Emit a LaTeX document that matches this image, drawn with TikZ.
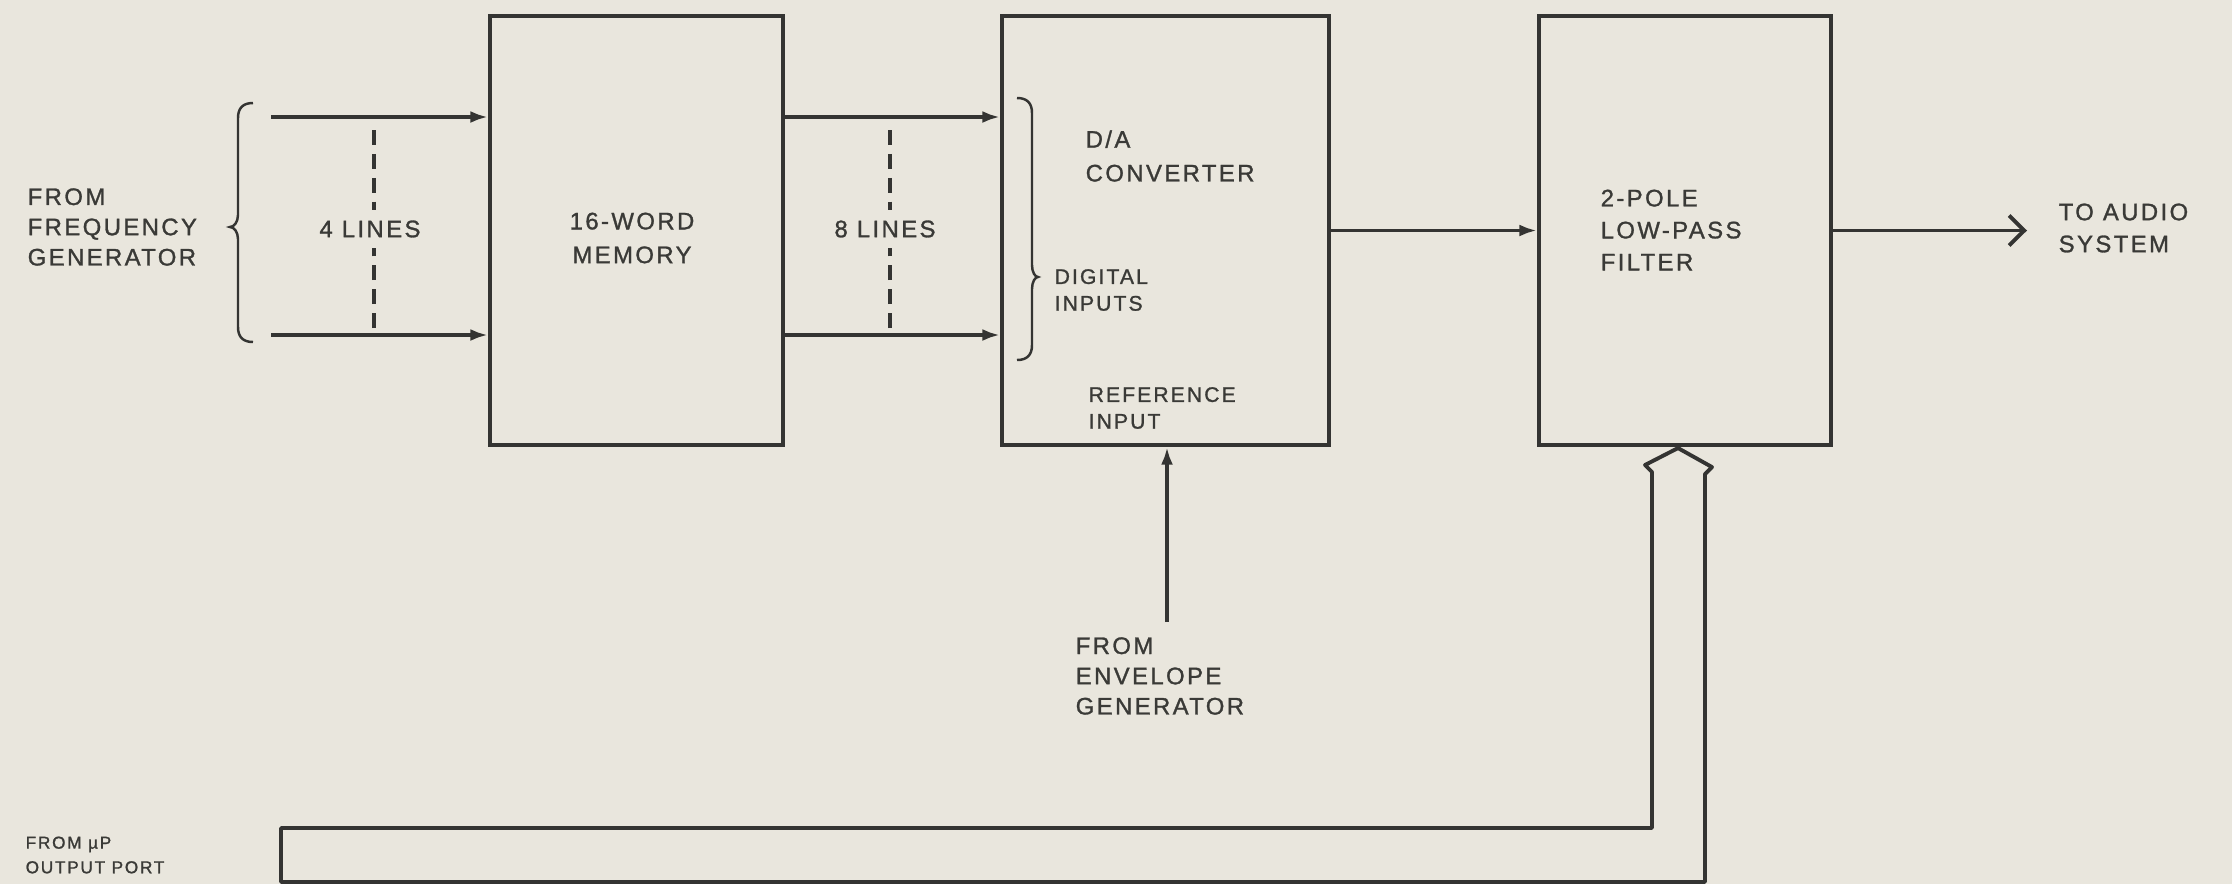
\documentclass[tikz,border=0pt]{standalone}
\usepackage{fontspec}
\setmainfont{Liberation Sans}
\newfontfamily\lbl{Liberation Sans}[LetterSpace=10,FakeBold=1.2]
\usetikzlibrary{arrows.meta,calc}
\definecolor{paper}{RGB}{233,230,221}
\definecolor{ink}{RGB}{52,52,50}
\definecolor{txt}{RGB}{58,58,55}
\begin{document}
\begin{tikzpicture}[x=0.01cm,y=-0.01cm,
  blockbox/.style={draw=ink,line width=1.1pt,inner sep=0pt,minimum height=4.29cm},
  lab/.style={text=txt,font=\lbl\fontsize{6.8pt}{8.6pt}\selectfont,align=left,inner sep=0pt,anchor=west},
  midlab/.style={text=txt,font=\lbl\fontsize{6.8pt}{8.6pt}\selectfont,align=center,inner xsep=0pt,inner ysep=0.1cm,anchor=center},
  smalllab/.style={text=txt,font=\lbl\fontsize{6.0pt}{7.6pt}\selectfont,align=left,inner sep=0pt,anchor=west},
  tinylab/.style={text=txt,font=\lbl\fontsize{4.9pt}{7pt}\selectfont,align=left,inner sep=0pt,anchor=west},
  sig/.style={draw=ink,line width=1.1pt,-{Latex[length=5pt,width=3.4pt]}},
  outsig/.style={draw=ink,line width=1.1pt,-{Straight Barb[length=4.3pt,width=8.5pt,line width=1.1pt]}},
  dashline/.style={draw=ink,line width=0.9pt,dash pattern=on 4.2pt off 2.6pt},
  brc/.style={draw=ink,line width=0.7pt},
  busline/.style={draw=ink,line width=1.1pt,line join=round}]
\path[use as bounding box,fill=paper] (0,0) rectangle (2232,884);

% blocks
\node[blockbox,minimum width=2.93cm] (mem) at (636.5,230.5) {};
\node[blockbox,minimum width=3.27cm] (da) at (1165.5,230.5) {};
\node[blockbox,minimum width=2.92cm] (filt) at (1685,230.5) {};

% labels
\node[lab] (freq) at (27,227) {FROM\\FREQUENCY\\GENERATOR};
\node[midlab] (l4) at (370,229) {4 LINES};
\node[midlab,inner ysep=0pt,font=\lbl\fontsize{6.8pt}{9.6pt}\selectfont] (memt) at (632,238) {16-WORD\\MEMORY};
\node[midlab] (l8) at (885,229) {8 LINES};
\node[lab,font=\lbl\fontsize{6.8pt}{9.6pt}\selectfont] (dat) at (1085,156) {D/A\\CONVERTER};
\node[smalllab] (dig) at (1054,290) {DIGITAL\\INPUTS};
\node[smalllab] (ref) at (1088,408) {REFERENCE\\INPUT};
\node[lab,font=\lbl\fontsize{6.8pt}{9.1pt}\selectfont] (filtt) at (1600,230) {2-POLE\\LOW-PASS\\FILTER};
\node[lab,font=\lbl\fontsize{6.8pt}{9.1pt}\selectfont] (audio) at (2058,228) {TO AUDIO\\SYSTEM};
\node[lab] (env) at (1075,676) {FROM\\ENVELOPE\\GENERATOR};
\node[tinylab] (up) at (25,855) {FROM µP\\OUTPUT PORT};

% input lines
\coordinate (a1) at (271,117);
\coordinate (a2) at (271,335);
\draw[sig] (a1) -- (a1 -| mem.west);
\draw[sig] (a2) -- (a2 -| mem.west);
\draw[sig] (mem.east |- a1) -- (da.west |- a1);
\draw[sig] (mem.east |- a2) -- (da.west |- a2);

% dashed bundle markers
\coordinate (d4t) at (374,130);
\coordinate (d4b) at (374,328);
\draw[dashline] (d4t) -- (d4t |- l4.north);
\draw[dashline] (d4b) -- (d4b |- l4.south);
\coordinate (d8t) at (890,130);
\coordinate (d8b) at (890,328);
\draw[dashline] (d8t) -- (d8t |- l8.north);
\draw[dashline] (d8b) -- (d8b |- l8.south);

% braces
\draw[brc] (253,103) .. controls (243,103) and (238,108) .. (238,118) -- (238,215)
  .. controls (238,222) and (234,227) .. (230,227)
  .. controls (234,227) and (238,232) .. (238,239) -- (238,327)
  .. controls (238,337) and (243,342) .. (253,342);
\draw[brc] (1017,98) .. controls (1027,98) and (1032,103) .. (1032,113) -- (1032,265)
  .. controls (1032,272) and (1035,277) .. (1038,277)
  .. controls (1035,277) and (1032,282) .. (1032,289) -- (1032,345)
  .. controls (1032,355) and (1027,360) .. (1017,360);

% D/A to filter, output
\draw[sig] (da.east) -- (filt.west);
\coordinate (outend) at (2027,230.5);
\draw[outsig] (filt.east) -- (outend);

% reference input
\coordinate (envtop) at (1167,622);
\draw[sig] (envtop) -- (envtop |- da.south);

% bus from uP output port
\coordinate (bustip) at ($(filt.south)+(-7,1)$);
\draw[busline] (bustip) -- ++(34,19) -- ++(-7,7) -- (1705,882) -- (281,882) -- (281,828)
  -- (1652,828) -- (1652,472) -- (1645,465) -- cycle;
\end{tikzpicture}
\end{document}
